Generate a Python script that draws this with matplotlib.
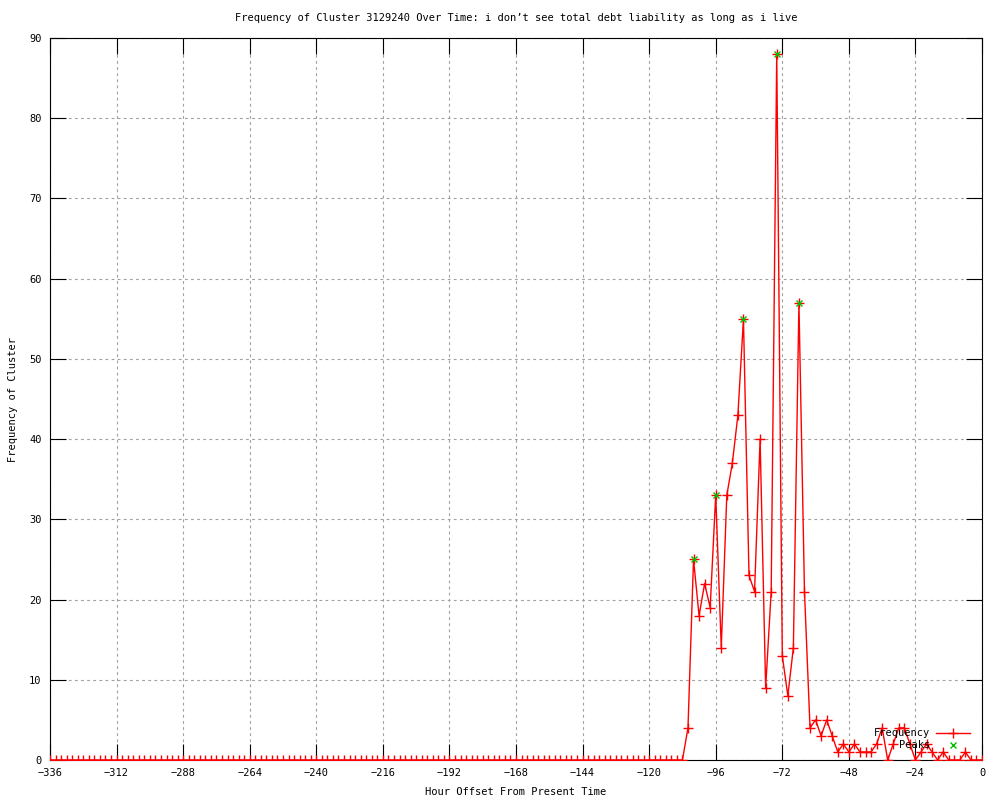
import matplotlib
matplotlib.use("Agg")
import matplotlib.pyplot as plt
from matplotlib.lines import Line2D

# ---- data ----
hours = list(range(-336, 1, 2))
frequency = [
    0, 0, 0, 0, 0, 0, 0, 0, 0, 0, 0, 0, 0, 0, 0, 0, 0, 0, 0, 0,
    0, 0, 0, 0, 0, 0, 0, 0, 0, 0, 0, 0, 0, 0, 0, 0, 0, 0, 0, 0,
    0, 0, 0, 0, 0, 0, 0, 0, 0, 0, 0, 0, 0, 0, 0, 0, 0, 0, 0, 0,
    0, 0, 0, 0, 0, 0, 0, 0, 0, 0, 0, 0, 0, 0, 0, 0, 0, 0, 0, 0,
    0, 0, 0, 0, 0, 0, 0, 0, 0, 0, 0, 0, 0, 0, 0, 0, 0, 0, 0, 0,
    0, 0, 0, 0, 0, 0, 0, 0, 0, 0, 0, 0, 0, 0, 0,
    4, 25, 18, 22, 19, 33, 14, 33, 37, 43,
    55, 23, 21, 40, 9, 21, 88, 13, 8, 14,
    57, 21, 4, 5, 3, 5, 3, 1, 2, 1,
    2, 1, 1, 1, 2, 4, 0, 2, 4, 4,
    2, 0, 1, 2, 1, 0, 1, 0, 0, 0,
    1, 0, 0, 0,
]
peak_hours = [-104, -96, -86, -74, -66]
peak_values = [25, 33, 55, 88, 57]

x_ticks = list(range(-336, 1, 24))
y_ticks = list(range(0, 91, 10))

title = "Frequency of Cluster 3129240 Over Time: i don\u2019t see total debt liability as long as i live"
xlabel = "Hour Offset From Present Time"
ylabel = "Frequency of Cluster"

# ---- style ----
plt.rcParams['font.family'] = ['DejaVu Sans Mono', 'DejaVu Sans']
FS = 7.5
RED = '#ff0000'
GREEN = '#00c000'

fig = plt.figure(figsize=(10, 8), dpi=100)
ax = fig.add_axes([0.05, 0.05, 0.932, 0.9025])

ax.plot(hours, frequency, color=RED, lw=1.0, marker='+', ms=7, mew=1.0, zorder=3)
ax.plot(peak_hours, peak_values, ls='none', color=GREEN, marker='x', ms=5, mew=1.0, zorder=4)

ax.set_xlim(-336, 0)
ax.set_ylim(0, 90)
ax.set_xticks(x_ticks)
ax.set_yticks(y_ticks)
ax.tick_params(direction='in', length=11.5, width=0.8, top=True, right=True,
               labelsize=FS, pad=6)
ax.grid(True, color='#a0a0a0', linestyle=(0, (2.5, 3)), linewidth=0.8)
for s in ax.spines.values():
    s.set_linewidth(0.8)

ax.set_title(title, fontsize=FS, pad=12)
ax.set_xlabel(xlabel, fontsize=FS, labelpad=6)
ax.set_ylabel(ylabel, fontsize=FS, labelpad=8)

# ---- legend (gnuplot style, right-aligned text) ----
tr = ax.transAxes
ax.text(0.944, 0.0374, "Frequency", transform=tr, ha='right', va='center', fontsize=FS, zorder=5)
ax.add_line(Line2D([0.9506, 0.9871], [0.0374, 0.0374], transform=tr, color=RED, lw=1.0, zorder=5))
ax.add_line(Line2D([0.9689], [0.0374], transform=tr, color=RED, marker='+', ms=7, mew=1.0, zorder=5))
ax.text(0.944, 0.0208, "Peaks", transform=tr, ha='right', va='center', fontsize=FS, zorder=5)
ax.add_line(Line2D([0.9689], [0.0208], transform=tr, color=GREEN, marker='x', ms=5, mew=1.0, ls='none', zorder=5))

fig.savefig("out.png", dpi=100)
